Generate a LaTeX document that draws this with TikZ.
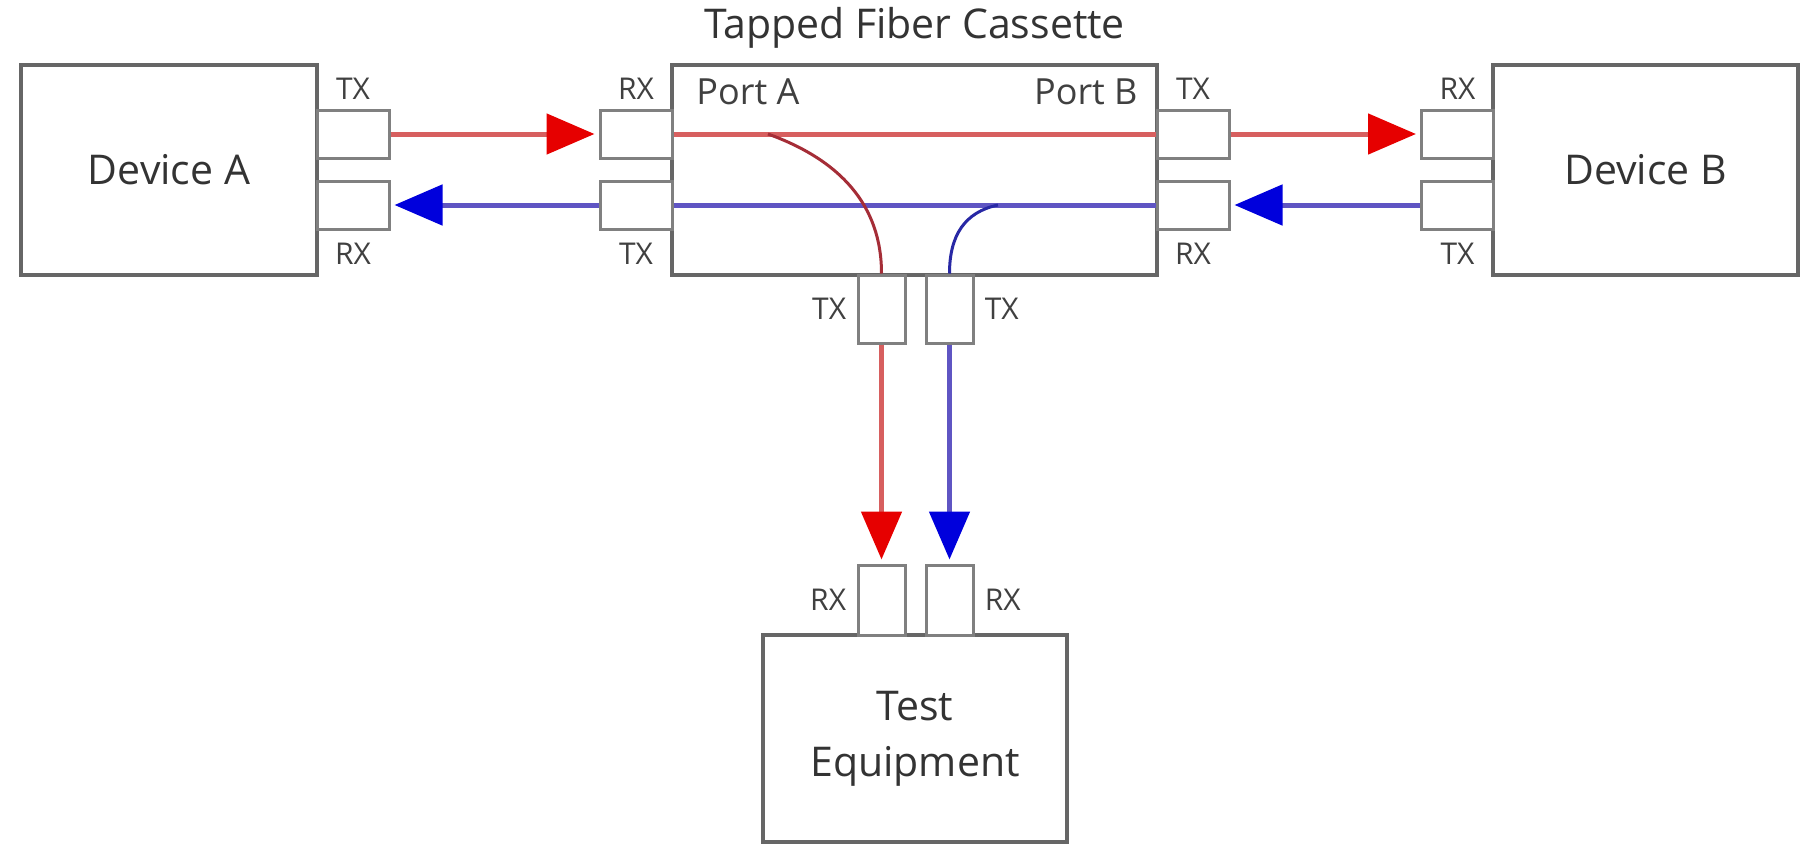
\documentclass[tikz,border=0pt]{standalone}
\usepackage{fontspec}
\setmainfont{Open Sans}
\usepackage{xcolor}
\usetikzlibrary{arrows.meta,positioning}

\definecolor{fibred}{RGB}{215,95,95}
\definecolor{fibblue}{RGB}{95,85,195}
\definecolor{tipred}{RGB}{230,0,0}
\definecolor{tipblue}{RGB}{0,0,220}
\definecolor{tapred}{RGB}{165,45,55}
\definecolor{tapblue}{RGB}{40,40,165}

\begin{document}
\begin{tikzpicture}[x=0.5pt, y=-0.5pt,
box/.style={draw=black!60, line width=2pt, fill=white, inner sep=0pt, align=center, text=black!80, font=\fontsize{20.5}{28}\selectfont},
hport/.style={draw=black!50, line width=1.5pt, fill=white, minimum width=36pt, minimum height=24pt, inner sep=0pt},
vport/.style={draw=black!50, line width=1.5pt, fill=white, minimum width=23.5pt, minimum height=34pt, inner sep=0pt},
lbl/.style={inner sep=0pt, text=black!75, font=\fontsize{15}{18}\selectfont},
title/.style={inner sep=0pt, text=black!80, font=\fontsize{20.5}{24}\selectfont},
portname/.style={inner sep=0pt, text=black!75, font=\fontsize{18}{22}\selectfont},
redarr/.style={draw=fibred, line width=2.5pt, shorten >=2pt, -{Triangle[length=24pt, width=20pt, color=tipred]}},
bluearr/.style={draw=fibblue, line width=2.5pt, shorten >=2pt, -{Triangle[length=24pt, width=20pt, color=tipblue]}},
redline/.style={draw=fibred, line width=2.5pt},
blueline/.style={draw=fibblue, line width=2.5pt},
redtap/.style={draw=tapred, line width=1.5pt},
bluetap/.style={draw=tapblue, line width=1.5pt}
]
\useasboundingbox (0,0) rectangle (1801,846);

% boxes
\node[box, minimum width=148pt, minimum height=105pt] (devA) at (169,170) {Device A};
\node[box, minimum width=242.5pt, minimum height=105pt] (cas) at (914.5,170) {};
\node[box, minimum width=152.5pt, minimum height=105pt] (devB) at (1645.5,170) {Device B};
\node[box, minimum width=152pt, minimum height=103.5pt] (test) at (915,738.5) {Test\\Equipment};
\node[title, above=7pt of cas] (castitle) {Tapped Fiber Cassette};
\node[portname, below right=7.5pt and 13pt of cas.north west] (porta) {Port A};
\node[portname, below left=7.5pt and 10.5pt of cas.north east] (portb) {Port B};

% connectors
\node[hport] (atx) at (353,134) {};
\node[hport] (arx) at (353,205) {};
\node[hport] (crx) at (636,134) {};
\node[hport] (ctx) at (636,205) {};
\node[hport] (cbtx) at (1193,134) {};
\node[hport] (cbrx) at (1193,205) {};
\node[hport] (brx) at (1457.5,134) {};
\node[hport] (btx) at (1457.5,205) {};
\node[vport] (tapa) at (881.5,309) {};
\node[vport] (tapb) at (949.5,309) {};
\node[vport, minimum height=35pt] (terxa) at (881.5,600) {};
\node[vport, minimum height=35pt] (terxb) at (949.5,600) {};

% connector labels
\node[lbl, above=4.5pt of atx] (atxl) {TX};
\node[lbl, below=6pt of arx] (arxl) {RX};
\node[lbl, above=4.5pt of crx] (crxl) {RX};
\node[lbl, below=6pt of ctx] (ctxl) {TX};
\node[lbl, above=4.5pt of cbtx] (cbtxl) {TX};
\node[lbl, below=6pt of cbrx] (cbrxl) {RX};
\node[lbl, above=4.5pt of brx] (brxl) {RX};
\node[lbl, below=6pt of btx] (btxl) {TX};
\node[lbl, left=5pt of tapa] (tapal) {TX};
\node[lbl, right=5pt of tapb] (tapbl) {TX};
\node[lbl, left=5pt of terxa] (terxal) {RX};
\node[lbl, right=5pt of terxb] (terxbl) {RX};

% fibres
\coordinate (splitA) at (768,134);
\coordinate (splitB) at (998,205);
\draw[redline] (crx.east) -- (cbtx.west);
\draw[blueline] (ctx.east) -- (cbrx.west);
\draw[redtap] (splitA) .. controls (840,160) and (881.5,205) .. (tapa.north);
\draw[bluetap] (splitB) .. controls (965,212) and (949.5,235) .. (tapb.north);
\draw[redarr] (atx) -- (crx);
\draw[bluearr] (ctx) -- (arx);
\draw[redarr] (cbtx) -- (brx);
\draw[bluearr] (btx) -- (cbrx);
\draw[redarr] (tapa) -- (terxa);
\draw[bluearr] (tapb) -- (terxb);
\end{tikzpicture}
\end{document}
